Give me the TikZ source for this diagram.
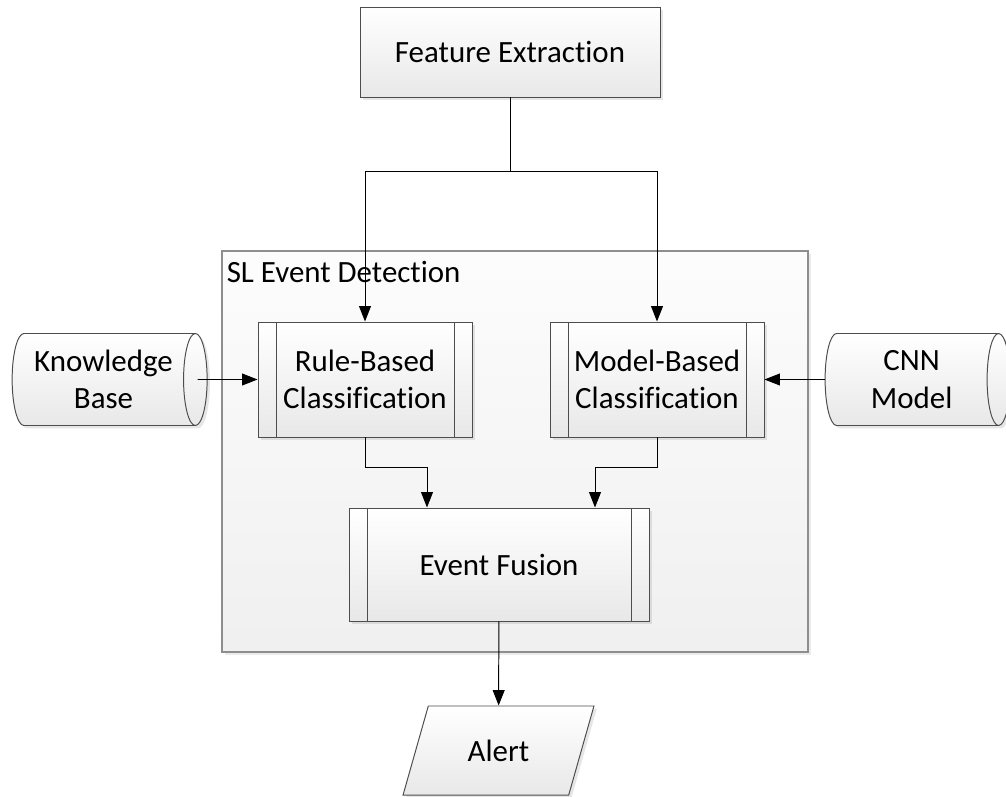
\documentclass[tikz,border=0pt]{standalone}
\usepackage{fontspec}
\setmainfont{Carlito}[Ligatures=NoCommon]
\usepackage{tikz}
\usetikzlibrary{arrows.meta, shapes.geometric, shadows}

\definecolor{boxline}{HTML}{4D4D4D}
\definecolor{groupline}{HTML}{8E8E8E}

\begin{document}
\begin{tikzpicture}[line width=0.7pt, >={Triangle[length=11pt, width=8.5pt]},
  every node/.style={font=\fontsize{22}{26.5}\selectfont, align=center, inner sep=0pt}]
  \tikzstyle{plain}=[draw=boxline, top color=white, bottom color=black!9,
    drop shadow={shadow xshift=2pt, shadow yshift=-2pt, opacity=0.2}]
  \tikzstyle{block}=[plain, rectangle, minimum width=7.5cm, minimum height=2.25cm]
  \tikzstyle{process}=[plain, rectangle, minimum height=2.875cm,
    path picture={\draw[boxline]
      ([xshift=0.45cm]path picture bounding box.north west) -- ([xshift=0.45cm]path picture bounding box.south west)
      ([xshift=-0.45cm]path picture bounding box.north east) -- ([xshift=-0.45cm]path picture bounding box.south east);}]
  \tikzstyle{store}=[plain, cylinder, shape aspect=0.4, minimum width=2.3cm]
  \tikzstyle{group}=[draw=groupline, line width=1.3pt, top color=black!1, bottom color=black!6,
    drop shadow={shadow xshift=2pt, shadow yshift=-2pt, opacity=0.15}]
  \useasboundingbox (0,0) rectangle (25.15,-19.925);

  \node[group, minimum width=14.65cm, minimum height=10.025cm] (SL) at (12.875,-11.2875) {};
  \node[anchor=base west] (SL_title) at ([xshift=0.13cm, yshift=-0.8cm]SL.north west) {SL Event Detection};

  \node[block] (FE) at (12.75,-1.3) {Feature Extraction};
  \node[process, minimum width=5.35cm] (Rule) at (9.125,-9.4875) {Rule-Based\\Classification};
  \node[process, minimum width=5.35cm] (Model) at (16.425,-9.4875) {Model-Based\\Classification};
  \node[process, minimum width=7.5cm, minimum height=2.825cm] (EF) at (12.475,-14.1125) {Event Fusion};
  \node[store, minimum height=4.875cm] (KB) at (2.5875,-9.4875) {Knowledge\\Base};
  \node[store, minimum height=4.625cm] (CNN) at (22.79,-9.4875) {CNN\\Model};
  \node[plain, trapezium, trapezium left angle=63, trapezium right angle=117,
    trapezium stretches=true, minimum width=4.775cm, minimum height=2.225cm] (Alert) at (12.4625,-18.7625) {Alert};

  \coordinate (split) at (12.75,-4.275);
  \draw (FE) -- (split);
  \draw[->] (split) -| (Rule);
  \draw[->] (split) -| (Model);
  \draw[->] ([xshift=-0.25cm]KB.east) -- (Rule);
  \draw[->] (CNN.west) -- (Model);
  \draw[->] (Rule.south) -- ++(0,-0.75) -| ([xshift=-1.8cm]EF.north);
  \draw[->] (Model.south) -- ++(0,-0.75) -| ([xshift=2.4cm]EF.north);
  \draw[->] (EF) -- (Alert);
\end{tikzpicture}
\end{document}
